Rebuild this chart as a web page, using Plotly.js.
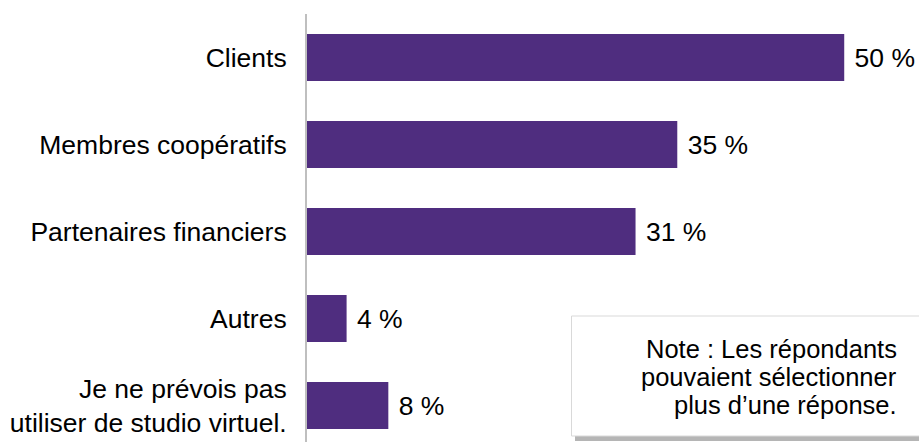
<!DOCTYPE html>
<html>
<head>
<meta charset="utf-8">
<script src="https://cdn.plot.ly/plotly-3.0.1.min.js"></script>
<style>html,body{margin:0;padding:0;background:#fff;}#chart{width:919px;height:442px;}</style>
</head>
<body>
<div id="chart"></div>
<script>
// Data
const categories = ["Clients", "Membres coopératifs", "Partenaires financiers", "Autres", "Je ne prévois pas<br>utiliser de studio virtuel."];
const values = [50.2, 34.6, 30.7, 3.7, 7.6];
const noteLines = ["Note : Les répondants", "pouvaient sélectionner", "plus d’une réponse."];

// Layout geometry
const W = 919, H = 442;
const M = {l: 307, r: 2, t: 14, b: 0};
const PW = W - M.l - M.r, PH = H - M.t - M.b;
const px2x = p => (p - M.l) / PW;
const px2y = p => (H - M.b - p) / PH;

const FONT = "Arial, 'Liberation Sans', sans-serif";
const FS = 26.5;
const NOTE_FS = 25.5;

const trace = {
  type: "bar",
  orientation: "h",
  y: categories,
  x: values,
  marker: {color: "#4F2D7F"},
  texttemplate: "\u00a0%{x:.0f} %",
  textposition: "outside",
  textfont: {family: FONT, size: FS, color: "#000"},
  cliponaxis: false,
  hoverinfo: "skip"
};

const annotations = noteLines.map((t, i) => ({
  xref: "paper", yref: "paper",
  x: px2x(899), y: px2y(349 + i * 28),
  xanchor: "right", yanchor: "middle",
  text: t, showarrow: false,
  font: {family: FONT, size: NOTE_FS, color: "#000"}
}));

const layout = {
  width: W, height: H,
  margin: M,
  paper_bgcolor: "#fff", plot_bgcolor: "#fff",
  showlegend: false,
  bargap: 0.46,
  xaxis: {range: [0, 57], visible: false, fixedrange: true},
  yaxis: {
    type: "category",
    range: [-0.5 + PH / 87, -0.5],
    showline: true, linecolor: "#BFBFBF", linewidth: 2,
    showgrid: false, zeroline: false,
    ticks: "", ticklabelstandoff: 13,
    tickfont: {family: FONT, size: FS, color: "#000"},
    fixedrange: true
  },
  shapes: [
    {type: "rect", xref: "paper", yref: "paper",
     x0: px2x(575), x1: px2x(930), y0: px2y(320), y1: px2y(441),
     fillcolor: "rgba(120,120,120,0.55)", line: {width: 0}, layer: "above"},
    {type: "rect", xref: "paper", yref: "paper",
     x0: px2x(571.5), x1: px2x(930), y0: px2y(316), y1: px2y(436),
     fillcolor: "#fff", line: {color: "#D9D9D9", width: 1}, layer: "above"}
  ],
  annotations: annotations
};

Plotly.newPlot("chart", [trace], layout, {displayModeBar: false, staticPlot: true});
</script>
</body>
</html>
